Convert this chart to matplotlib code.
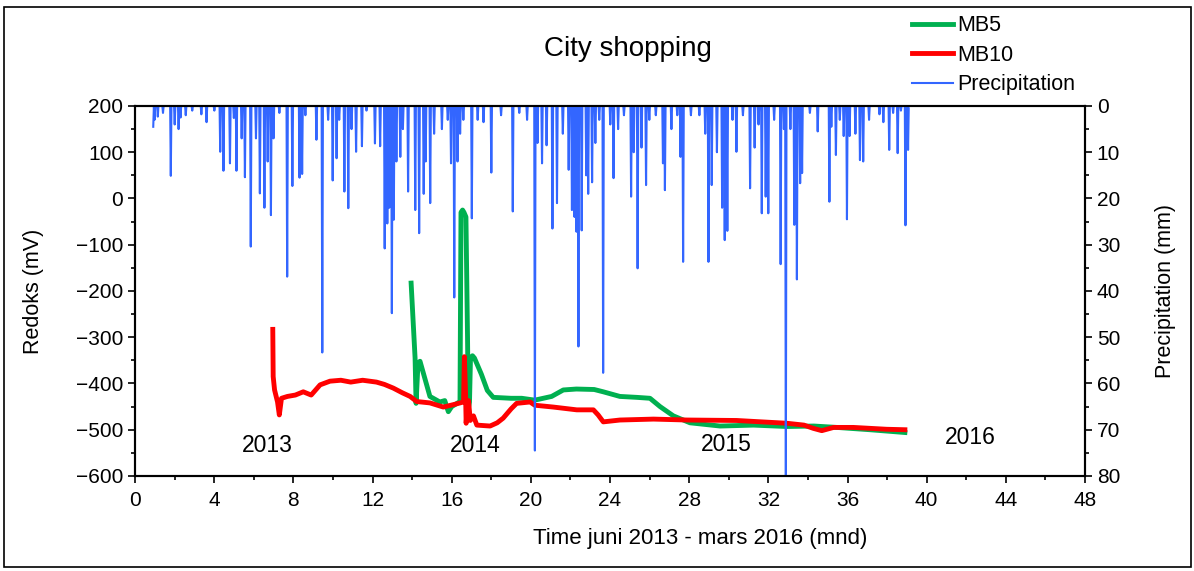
import numpy as np
import matplotlib
matplotlib.use('Agg')
import matplotlib.pyplot as plt
from matplotlib.ticker import MultipleLocator
from matplotlib.patches import Rectangle

plt.rcParams['font.family'] = ['Liberation Sans', 'DejaVu Sans']

# MB5 redoks (mnd, mV)
mb5_month = [13.95, 14.15, 14.2, 14.3, 14.4, 14.9, 15.4, 15.65, 15.83, 16.0, 16.42, 16.47, 16.55,
             16.62, 16.72, 16.76, 16.8, 16.84, 16.9, 16.95, 17.05, 17.15, 17.5, 17.8, 18.1, 19.0,
             19.54, 20.2, 21.05, 21.64, 22.3, 23.2, 23.66, 24.5, 25.35, 26.02, 26.53, 27.2, 28.04,
             29.56, 31.25, 32.93, 34.3, 35.46, 37.14, 38.9]
mb5_mv = [-183, -345, -443, -355, -352, -428, -440, -437, -461, -450, -439, -30, -25,
          -30, -40, -170, -300, -455, -440, -345, -340, -345, -380, -415, -430, -432,
          -432, -436, -428, -414, -412, -413, -418, -428, -430, -432, -450, -470, -485,
          -492, -490, -493, -492, -495, -500, -506]

# MB10 redoks (mnd, mV)
mb10_month = [6.96, 6.98, 7.05, 7.2, 7.29, 7.4, 7.7, 8.1, 8.5, 8.9, 9.35, 9.85, 10.4, 10.9, 11.5,
              12.2, 12.6, 13.05, 13.5, 13.9, 14.23, 14.9, 15.58, 16.25, 16.6, 16.64, 16.7, 16.73,
              16.8, 16.85, 16.94, 17.1, 17.27, 17.94, 18.3, 18.6, 19.0, 19.28, 19.96, 20.2, 21.14,
              22.32, 23.16, 23.4, 23.66, 24.5, 26.2, 27.9, 30.4, 32.93, 33.8, 34.27, 34.7, 35.3,
              36.3, 37.98, 38.9]
mb10_mv = [-283, -385, -414, -440, -468, -432, -428, -425, -418, -425, -403, -395, -393, -397, -393,
           -397, -402, -410, -420, -428, -439, -442, -451, -444, -440, -342, -420, -486,
           -445, -437, -480, -470, -490, -492, -485, -475, -455, -443, -440, -447, -451,
           -457, -457, -468, -483, -479, -477, -479, -480, -486, -490, -497, -502, -495,
           -495, -499, -500]

# Nedbør, døgn med regn (mnd, mm)
rain_month = [0.93, 1.0, 1.16, 1.4, 1.82, 2.02, 2.2, 2.3, 2.55, 2.9, 3.35, 3.6, 4.0, 4.3, 4.47, 4.8,
              5.0, 5.14, 5.4, 5.56, 5.85, 6.1, 6.32, 6.53, 6.7, 6.86, 7.0, 7.3, 7.7, 7.95, 8.3, 8.44,
              8.6, 9.18, 9.47, 9.76, 9.99, 10.19, 10.3, 10.58, 10.78, 10.95, 11.17, 11.45, 11.7,
              12.13, 12.4, 12.63, 12.75, 12.85, 12.97, 13.09, 13.2, 13.4, 13.55, 13.81, 14.15,
              14.37, 14.6, 14.7, 14.9, 15.1, 15.5, 15.8, 15.95, 16.12, 16.3, 16.42, 16.6, 17.01,
              17.3, 17.6, 17.99, 18.5, 19.08, 19.4, 19.8, 20.21, 20.35, 20.55, 20.8, 21.1, 21.31,
              21.6, 21.9, 22.07, 22.2, 22.32, 22.42, 22.57, 22.8, 22.9, 23.1, 23.25, 23.45, 23.65,
              24.0, 24.17, 24.4, 24.7, 25.05, 25.2, 25.38, 25.6, 25.82, 26.0, 26.3, 26.66, 26.78,
              27.1, 27.4, 27.57, 27.7, 28.1, 28.5, 28.8, 28.97, 29.14, 29.4, 29.65, 29.81, 29.92,
              30.2, 30.4, 30.7, 31.08, 31.3, 31.5, 31.67, 31.85, 32.0, 32.3, 32.62, 32.8, 32.9,
              33.1, 33.32, 33.43, 33.6, 33.7, 34.1, 34.5, 35.07, 35.2, 35.42, 35.6, 35.8, 35.96,
              36.1, 36.4, 36.63, 36.8, 37.1, 37.6, 37.8, 38.1, 38.3, 38.54, 38.7, 38.93, 39.05, 39.1]
rain_mm = [4.5, 3, 2.3, 1.5, 15.1, 4, 5, 2.5, 2, 1, 1.8, 3.5, 1, 9.9, 14, 12.4,
           2.6, 14, 7, 15.4, 30.4, 7, 18.9, 22, 12, 23.6, 7, 1.5, 36.9, 17.3, 15.5, 14.7,
           2, 7.3, 53.3, 3, 16.1, 11.3, 3, 18.5, 22.1, 5, 9.9, 8.7, 1,
           8.1, 8.7, 30.8, 25.4, 22, 44.8, 24.6, 12, 11, 5, 18.5, 22.5,
           27.5, 19, 12, 21, 6, 5, 3, 12.4, 41.4, 12, 6, 3, 24.3,
           3, 3.5, 14.4, 2, 22.8, 1.5, 3, 74.5, 8, 12.4, 8.5, 26.5, 21,
           6, 13.8, 22.5, 24, 27.2, 52, 26.9, 15, 19, 16.5, 8, 3, 57.7,
           4, 15.6, 5, 2, 19.6, 10, 35.1, 9, 17.1, 3, 2, 12.4, 18.2,
           5, 2, 11, 33.7, 2, 2, 6, 33.7, 17.1, 10, 22, 29, 27,
           3, 9.9, 2, 17.8, 9, 4, 23.2, 19.6, 23.2, 3, 34.2, 5, 82,
           5, 25.7, 37.5, 16.7, 14.5, 1.5, 5.5, 20.7, 4.5, 10.6, 3, 6.5, 24.5,
           6.5, 6, 11.7, 12, 3, 1.8, 3.5, 9.5, 1.5, 10.2, 1, 25.8, 9.5, 0.5]

# døgnserie, 0 mm de andre dagene
days_per_month = 30.44
d0 = int(round(rain_month[0] * days_per_month))
d1 = int(round(rain_month[-1] * days_per_month))
day = np.arange(d0, d1 + 1)
rain_daily = np.zeros(len(day))
for m, v in zip(rain_month, rain_mm):
    rain_daily[int(round(m * days_per_month)) - d0] = v

fig = plt.figure(figsize=(11.94, 5.71), dpi=100)
ax = fig.add_axes([0.1131, 0.1664, 0.7956, 0.648])

ax.plot(mb5_month, mb5_mv, color='#00B050', lw=3.5, label='MB5', solid_joinstyle='round')
ax.plot(mb10_month, mb10_mv, color='#FF0000', lw=3.5, label='MB10', solid_joinstyle='round')

ax.set_xlim(0, 48)
ax.set_ylim(-600, 200)
ax.xaxis.set_major_locator(MultipleLocator(4))
ax.xaxis.set_minor_locator(MultipleLocator(2))
ax.yaxis.set_major_locator(MultipleLocator(100))
ax.yaxis.set_minor_locator(MultipleLocator(50))
ax.tick_params(which='both', direction='out', labelsize=15, width=1.2)
ax.tick_params(which='major', length=5)
ax.tick_params(which='minor', length=3)
ax.tick_params(axis='x', pad=6)
ax.set_ylabel('Redoks (mV)', fontsize=15.5, labelpad=23)
ax.set_xlabel('Time juni 2013 - mars 2016 (mnd)', fontsize=16, labelpad=13, x=0.595)

# årstall
for x, y, s in [(6.67, -535, '2013'), (17.2, -535, '2014'), (29.9, -531, '2015'), (42.2, -517, '2016')]:
    ax.text(x, y, s, ha='center', va='center', fontsize=16.5)

# nedbør på høyre akse, snudd
ax2 = ax.twinx()
ax2.plot(day / days_per_month, rain_daily, color='#3366FF', lw=1.5, label='Precipitation')
ax2.set_ylim(80, 0)
ax2.yaxis.set_major_locator(MultipleLocator(10))
ax2.yaxis.set_minor_locator(MultipleLocator(5))
ax2.tick_params(which='both', direction='out', labelsize=15, width=1.2)
ax2.tick_params(which='major', length=5)
ax2.tick_params(which='minor', length=3)
ax2.set_ylabel('Precipitation (mm)', fontsize=15.5, labelpad=25)

for a in (ax, ax2):
    for sp in a.spines.values():
        sp.set_linewidth(1.5)

ax.set_title('City shopping', fontsize=20, pad=36, x=0.519)

h1, l1 = ax.get_legend_handles_labels()
h2, l2 = ax2.get_legend_handles_labels()
fig.legend(h1 + h2, l1 + l2, loc='upper left', bbox_to_anchor=(0.751, 1.0), frameon=False,
           fontsize=15.5, handlelength=1.9, handletextpad=0.2, labelspacing=0.4, borderpad=0.2)

# ramme rundt figuren
fig.patches.append(Rectangle((4 / 1194, 4 / 571), 1187 / 1194, 560 / 571, transform=fig.transFigure,
                             fill=False, edgecolor='black', lw=1.2))

plt.savefig('out.png', dpi=100)
